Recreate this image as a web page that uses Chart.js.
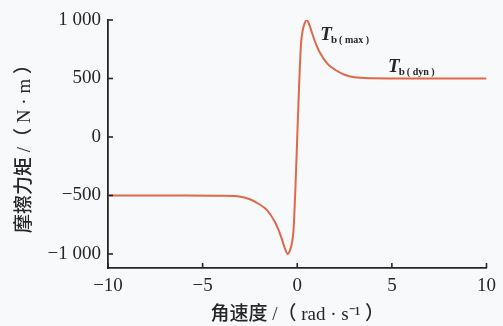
<!DOCTYPE html>
<html>
<head>
<meta charset="utf-8">
<script src="https://cdn.jsdelivr.net/npm/chart.js@4/dist/chart.umd.min.js"></script>
<style>
  html, body { margin: 0; padding: 0; background: #f8f9fb; }
  #wrap { width: 503px; height: 326px; }
</style>
</head>
<body>
<div id="wrap"><canvas id="frictionChart"></canvas></div>
<script>
// angular speed (rad/s) and friction torque (N·m)
const speed = [-10, -6, -4, -3, -2.5, -2, -1.6, -1.2, -1, -0.8, -0.65, -0.5, -0.4, -0.3, -0.2, -0.1, 0,
               0.1, 0.2, 0.3, 0.4, 0.5, 0.65, 0.8, 1, 1.2, 1.6, 2, 2.5, 3, 4, 6, 10];
const torque = [-500, -500, -502, -510, -532, -575, -625, -720, -790, -880, -955, -1000, -975, -920, -800, -450, 0,
                450, 800, 920, 975, 1000, 955, 880, 790, 720, 625, 575, 532, 510, 502, 500, 500];

const xTicks = [-10, -5, 0, 5, 10];
const yTicks = [-1000, -500, 0, 500, 1000];
const yLabels = ["\u22121 000", "\u2212500", "0", "500", "1 000"];

// annotation anchors in data units
const notes = [
  { x: 1.22, y: 830, sub: "b", tag: "( max )" },
  { x: 4.8, y: 555, sub: "b", tag: "( dyn )" }
];

const ink = "#262626";
const serif = "'Liberation Serif', 'Noto Sans CJK SC', serif";

const innerTicks = {
  id: "innerTicks",
  afterDraw(chart) {
    const ctx = chart.ctx;
    const xs = chart.scales.x, ys = chart.scales.y;
    const area = chart.chartArea;
    ctx.save();
    ctx.strokeStyle = ink;
    ctx.lineWidth = 1.6;
    xTicks.forEach(v => {
      const px = xs.getPixelForValue(v);
      ctx.beginPath();
      ctx.moveTo(px, area.bottom);
      ctx.lineTo(px, area.bottom - 5);
      ctx.stroke();
    });
    yTicks.forEach(v => {
      const py = ys.getPixelForValue(v);
      ctx.beginPath();
      ctx.moveTo(area.left, py);
      ctx.lineTo(area.left + 5, py);
      ctx.stroke();
    });

    // T_b labels
    ctx.fillStyle = ink;
    ctx.textBaseline = "alphabetic";
    notes.forEach(n => {
      let px = xs.getPixelForValue(n.x);
      const py = ys.getPixelForValue(n.y);
      ctx.font = "italic bold 19px 'Liberation Serif', serif";
      ctx.fillText("T", px, py);
      px += ctx.measureText("T").width - 1;
      ctx.font = "bold 11px 'Liberation Serif', serif";
      ctx.fillText(n.sub, px, py + 3);
      px += ctx.measureText(n.sub).width + 2;
      ctx.font = "bold 10px 'Liberation Serif', serif";
      ctx.fillText(n.tag, px, py + 3);
    });
    ctx.restore();
  }
};

new Chart(document.getElementById("frictionChart"), {
  type: "scatter",
  data: {
    datasets: [{
      data: speed.map((s, i) => ({ x: s, y: torque[i] })),
      showLine: true,
      borderColor: "#e0674a",
      borderWidth: 2,
      pointRadius: 0,
      tension: 0.4,
      cubicInterpolationMode: "monotone",
      fill: false
    }]
  },
  options: {
    responsive: true,
    maintainAspectRatio: false,
    animation: false,
    layout: { padding: { left: 0, right: 16, top: 20, bottom: 0 } },
    plugins: { legend: { display: false }, tooltip: { enabled: false } },
    scales: {
      x: {
        type: "linear",
        min: -10,
        max: 10,
        afterBuildTicks: s => { s.ticks = xTicks.map(v => ({ value: v })); },
        afterFit: s => { s.height = 58; },
        grid: { display: false, drawTicks: false },
        border: { display: true, color: ink, width: 1.8 },
        ticks: {
          padding: 7,
          color: ink,
          font: { family: serif, size: 19 },
          callback: v => (v < 0 ? "\u2212" + Math.abs(v) : String(v))
        },
        title: {
          display: true,
          text: "角速度 /（ rad · s⁻¹ ）",
          color: ink,
          font: { family: serif, size: 19, weight: "500" },
          padding: { top: 4, bottom: 0 }
        }
      },
      y: {
        type: "linear",
        min: -1120,
        max: 1000,
        afterBuildTicks: s => { s.ticks = yTicks.map(v => ({ value: v })); },
        afterFit: s => { s.width = 108; },
        grid: { display: false, drawTicks: false },
        border: { display: true, color: ink, width: 1.8 },
        ticks: {
          padding: 7,
          color: ink,
          font: { family: serif, size: 19 },
          callback: v => yLabels[yTicks.indexOf(v)]
        },
        title: {
          display: true,
          text: "摩擦力矩 /（ N · m ）",
          color: ink,
          font: { family: serif, size: 19, weight: "500" },
          padding: { top: 14, bottom: 4 }
        }
      }
    }
  },
  plugins: [innerTicks]
});
</script>
</body>
</html>
